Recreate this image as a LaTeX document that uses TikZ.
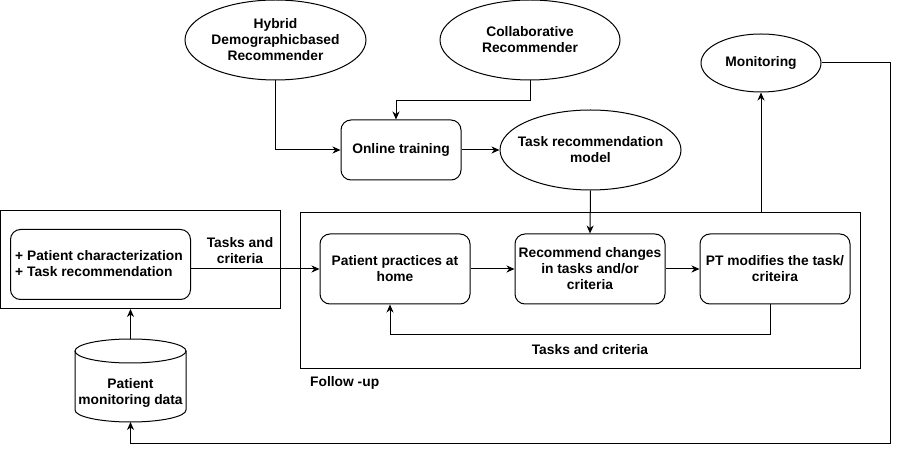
\documentclass[tikz,border=0pt]{standalone}
\usepackage{fontspec}
\setmainfont{Liberation Sans}
\usetikzlibrary{arrows.meta,shapes.geometric}
\begin{document}
\begin{tikzpicture}[x=1pt,y=-1pt,
  every node/.style={font=\fontsize{13.8}{16}\selectfont\bfseries},
  rbox/.style={draw, line width=1pt, rounded corners=10pt, align=center, inner sep=0pt},
  ell/.style={draw, line width=1pt, ellipse, inner sep=0pt},
  plainbox/.style={draw, line width=1pt, inner sep=0pt, anchor=north west},
  txt/.style={align=center, inner sep=0pt},
  arr/.style={-{Stealth[length=8pt,width=7pt,inset=2.5pt]}, line width=1pt},
  ln/.style={line width=1pt}]
\fill[white] (0,0) rectangle (900,454);
\useasboundingbox (0,0) rectangle (900,454);

% top ellipses
\node[ell, minimum width=181pt, minimum height=80pt] (hyb) at (275.5,40) {};
\node[txt] at (hyb.center) {Hybrid\\Demographicbased\\Recommender};
\node[ell, minimum width=180pt, minimum height=80pt] (col) at (530,40) {};
\node[txt] at (col.center) {Collaborative\\Recommender};
\node[rbox, minimum width=120pt, minimum height=60pt] (onl) at (401,150) {Online training};
\node[ell, minimum width=181pt, minimum height=80pt] (trm) at (590.5,150) {};
\node[txt] at (trm.center) {Task recommendation\\model};
\node[ell, minimum width=120pt, minimum height=58pt] (mon) at (761,63) {};
\node[txt] at (mon.center) {Monitoring};

% left group
\node[plainbox, minimum width=280pt, minimum height=98pt] (left) at (0,210) {};
\node[rbox, anchor=north west, minimum width=180pt, minimum height=70pt] (pc) at (10,229) {};
\node[txt, align=left, anchor=west] (pctext) at (15,264) {+ Patient characterization\\+ Task recommendation};
\node[txt] (lab1) at (240,251) {Tasks and\\criteria};

% follow-up group
\node[plainbox, minimum width=560pt, minimum height=156pt] (fu) at (300,212) {};
\node[rbox, minimum width=150pt, minimum height=70pt] (pp) at (395,269) {Patient practices at\\home};
\node[rbox, minimum width=150pt, minimum height=70pt] (rc) at (590,269) {Recommend changes\\in tasks and/or\\criteria};
\node[rbox, minimum width=150pt, minimum height=70pt] (pt) at (775,269) {PT modifies the task/\\criteira};
\node[txt] (lab2) at (590,350) {Tasks and criteria};
\node[txt, anchor=west] (fulab) at (310,383) {Follow -up};

% cylinder
\coordinate (cyltop) at (130.5,339);
\coordinate (cylbot) at (130.5,422);
\draw[ln] (130.5,351) ellipse [x radius=55.5pt, y radius=12pt];
\draw[ln] (75,351) -- (75,410) arc[start angle=180, end angle=360, x radius=55.5pt, y radius=12pt] -- (186,351);
\node[txt] (pmd) at (130.5,393) {Patient\\monitoring data};

% connectors
\draw[arr] (hyb.south) |- (onl.west);
\draw[arr] (col.south) -- ++(0,20) -| ([xshift=-5pt]onl.north);
\draw[arr] (onl.east) -- (trm.west);
\draw[arr] (trm.south) -- (rc.north);
\draw[arr] (pp.west -| pc.east) -- (pp.west);
\draw[arr] (pp.east) -- (rc.west);
\draw[arr] (rc.east) -- (pt.west);
\draw[arr] ([xshift=-5pt]pt.south) -- ++(0,30) -| ([xshift=-5pt]pp.south);
\draw[arr] (fu.north -| mon.south) -- (mon.south);
\draw[arr] (cyltop) -- (left.south -| cyltop);
\coordinate (c1) at (890,443);
\draw[arr] (mon.east) -| (c1) -| (cylbot);
\end{tikzpicture}
\end{document}
